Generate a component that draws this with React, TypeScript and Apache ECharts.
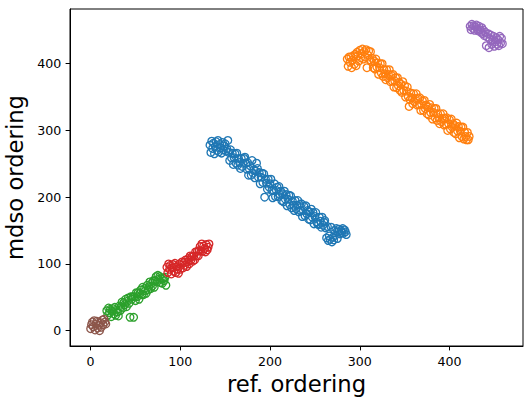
import React, { useEffect, useRef } from "react";
import * as echarts from "echarts";

const xTicks = [0, 100, 200, 300, 400];
const yTicks = [0, 100, 200, 300, 400];

const bluePoints = [
  [133,278],[134,267],[135,284],[136,273],[137,281],[138,265],[139,276],[140,283],[141,270],[142,285],[143,268],[144,279],[145,274],[146,266],[147,282],[148,271],[149,277],[150,280],[151,269],[152,272],[153,285],[154,267],[155,255],[156,271],[157,259],[158,266],[159,249],[160,259],[161,265],[162,251],[163,266],[164,248],[165,258],[166,252],[167,243],[168,258],[169,246],[170,251],[171,258],[172,260],[173,251],[174,242],[175,252],[176,233],[177,242],[178,247],[179,233],[180,255],[181,236],[182,241],[183,229],[184,239],[185,251],[186,243],[187,230],[188,237],[189,220],[190,230],[191,236],[192,222],[193,235],[194,200],[195,227],[196,221],[197,212],[198,227],[199,215],[200,220],[201,227],[202,210],[203,199],[204,210],[205,220],[206,201],[207,210],[208,215],[209,201],[210,216],[211,204],[212,209],[213,195],[214,205],[215,193],[216,209],[217,197],[218,204],[219,187],[220,197],[221,203],[222,189],[223,202],[224,184],[225,194],[226,188],[227,180],[228,195],[229,183],[230,188],[231,195],[232,178],[233,189],[234,180],[235,190],[236,171],[237,180],[238,186],[239,172],[240,187],[241,175],[242,180],[243,167],[244,178],[245,166],[246,182],[247,170],[248,177],[249,160],[250,171],[251,177],[252,163],[253,160],[254,159],[255,170],[256,164],[257,155],[258,170],[259,158],[260,163],[261,165],[262,154],[263,139],[264,156],[265,135],[266,142],[267,137],[268,155],[269,133],[270,140],[271,136],[272,150],[273,143],[274,153],[275,138],[276,148],[277,152],[278,145],[279,150],[280,147],[281,153],[282,146],[283,151],[284,148],[285,144]
];

const orangePoints = [
  [286,407],[287,396],[288,410],[289,402],[290,410],[291,394],[292,405],[293,412],[294,399],[295,414],[296,397],[297,417],[298,412],[299,404],[300,420],[301,409],[302,415],[303,422],[304,407],[305,418],[306,410],[307,421],[308,394],[309,413],[310,419],[311,406],[312,418],[313,403],[314,408],[315,394],[316,404],[317,392],[318,407],[319,395],[320,401],[321,384],[322,394],[323,400],[324,386],[325,400],[326,381],[327,391],[328,385],[329,376],[330,391],[331,379],[332,384],[333,391],[334,373],[335,383],[336,374],[337,384],[338,365],[339,374],[340,379],[341,364],[342,379],[343,367],[344,372],[345,360],[346,369],[347,357],[348,373],[349,360],[350,367],[351,350],[352,359],[353,365],[354,351],[355,336],[356,346],[357,356],[358,349],[359,340],[360,355],[361,343],[362,348],[363,355],[364,338],[365,348],[366,339],[367,349],[368,330],[369,339],[370,344],[371,330],[372,345],[373,333],[374,338],[375,325],[376,335],[377,323],[378,339],[379,327],[380,334],[381,317],[382,327],[383,333],[384,319],[385,333],[386,315],[387,325],[388,319],[389,310],[390,325],[391,313],[392,318],[393,325],[394,308],[395,318],[396,309],[397,319],[398,300],[399,310],[400,316],[401,302],[402,317],[403,305],[404,310],[405,297],[406,307],[407,295],[408,311],[409,299],[410,306],[411,289],[412,299],[413,305],[414,291],[415,305],[416,287],[417,297],[418,291],[419,286],[420,297],[421,286],[422,291]
];

const greenPoints = [
  [18,30],[19,23],[20,34],[21,27],[22,32],[23,21],[24,29],[25,33],[26,25],[27,35],[28,23],[29,31],[30,28],[31,22],[32,37],[33,30],[34,36],[35,43],[36,34],[37,42],[38,39],[39,47],[40,36],[41,44],[42,49],[43,41],[44,20],[45,51],[46,47],[47,51],[48,20],[49,51],[50,45],[51,57],[52,51],[53,57],[54,47],[55,56],[56,61],[57,54],[58,65],[59,54],[60,63],[61,60],[62,56],[63,68],[64,61],[65,66],[66,73],[67,63],[68,71],[69,67],[70,75],[71,65],[72,75],[73,81],[74,73],[75,83],[76,77],[77,81],[78,72],[79,78],[80,71],[81,79],[82,75],[83,80],[84,68]
];

const redPoints = [
  [85,95],[86,87],[87,100],[88,92],[89,98],[90,85],[91,94],[92,99],[93,89],[94,101],[95,87],[96,96],[97,92],[98,86],[99,100],[100,92],[101,98],[102,103],[103,94],[104,102],[105,98],[106,106],[107,96],[108,103],[109,108],[110,100],[111,112],[112,106],[113,111],[114,104],[115,112],[116,106],[117,118],[118,112],[119,119],[120,112],[121,120],[122,126],[123,119],[124,130],[125,119],[126,127],[127,123],[128,118],[129,129],[130,121],[131,125],[132,130]
];

const purplePoints = [
  [423,456],[424,451],[425,459],[426,453],[427,457],[428,450],[429,455],[430,458],[431,452],[432,449],[433,456],[434,451],[435,447],[436,454],[437,445],[438,450],[439,442],[440,447],[441,427],[442,440],[443,445],[444,424],[445,437],[446,443],[447,429],[448,435],[449,441],[450,426],[451,433],[452,439],[453,429],[454,436],[455,427],[456,441],[457,431],[458,438],[459,430]
];

const brownPoints = [
  [0,3],[1,9],[2,13],[3,6],[4,15],[5,1],[6,10],[7,14],[8,4],[9,8],[10,0],[11,12],[12,5],[13,16],[14,9],[15,17],[16,13],[17,10]
];

const groups = [
  { name: "0", color: "#1f77b4", data: bluePoints },
  { name: "1", color: "#ff7f0e", data: orangePoints },
  { name: "2", color: "#2ca02c", data: greenPoints },
  { name: "3", color: "#d62728", data: redPoints },
  { name: "4", color: "#9467bd", data: purplePoints },
  { name: "5", color: "#8c564b", data: brownPoints },
];

const FONT = "DejaVu Sans";

export default function App() {
  const ref = useRef<HTMLDivElement>(null);
  useEffect(() => {
    if (!ref.current) return;
    const chart = echarts.init(ref.current, null, { renderer: "svg" });
    chart.setOption({
      animation: false,
      backgroundColor: "#ffffff",
      grid: {
        left: 70,
        top: 9,
        right: 5,
        bottom: 54,
        outerBoundsMode: "none",
        containLabel: false,
        show: true,
        borderColor: "#000",
        borderWidth: 1,
        backgroundColor: "transparent",
      },
      xAxis: {
        type: "value",
        min: -22.95,
        max: 481.95,
        name: "ref. ordering",
        nameLocation: "middle",
        nameGap: 22,
        nameTextStyle: { fontFamily: FONT, fontSize: 22.7, color: "#000" },
        axisLine: { show: true, onZero: false, lineStyle: { color: "#000", width: 1 } },
        axisTick: { show: true, length: 4.4, customValues: xTicks, lineStyle: { color: "#000" } },
        axisLabel: { customValues: xTicks, margin: 8.8, fontFamily: FONT, fontSize: 12.6, color: "#000" },
        splitLine: { show: false },
      },
      yAxis: {
        type: "value",
        min: -22.95,
        max: 481.95,
        name: "mdso ordering",
        nameLocation: "middle",
        nameGap: 41,
        nameTextStyle: { fontFamily: FONT, fontSize: 22.7, color: "#000" },
        axisLine: { show: true, onZero: false, lineStyle: { color: "#000", width: 1 } },
        axisTick: { show: true, length: 4.4, customValues: yTicks, lineStyle: { color: "#000" } },
        axisLabel: { customValues: yTicks, margin: 8.8, fontFamily: FONT, fontSize: 12.6, color: "#000" },
        splitLine: { show: false },
      },
      series: groups.map((g) => ({
        type: "scatter",
        name: g.name,
        data: g.data,
        symbol: "circle",
        symbolSize: 7.6,
        itemStyle: { color: "rgba(0,0,0,0)", borderColor: g.color, borderWidth: 1.3, opacity: 1 },
        emphasis: { disabled: true },
      })),
    });
    return () => chart.dispose();
  }, []);
  return (
    <div
      ref={ref}
      style={{ position: "fixed", left: 0, top: 0, width: 528, height: 400 }}
    />
  );
}
